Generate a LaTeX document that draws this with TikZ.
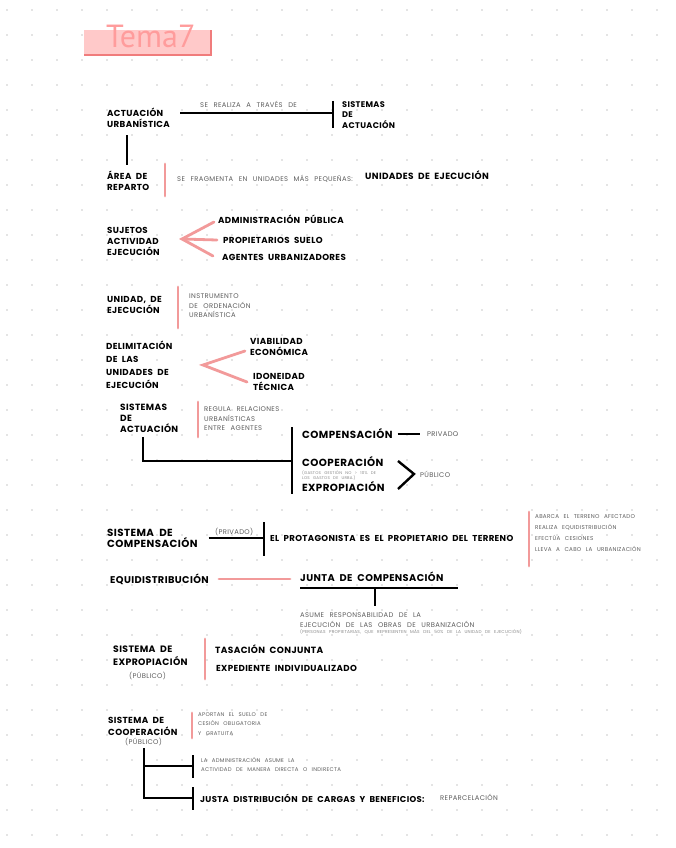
\documentclass[tikz,border=0pt]{standalone}
\usepackage{fontspec}
\setmainfont{Poppins}
\newfontfamily\handfont{Poppins}[WordSpace=2,LetterSpace=4]
\newfontfamily\notefont{Poppins}[WordSpace=2.6,LetterSpace=5]
\newfontfamily\titlefont{PT Sans}
\usetikzlibrary{positioning}
\definecolor{pinkline}{HTML}{F29A9A}
\definecolor{titlefill}{HTML}{FFC9C9}
\definecolor{titleline}{HTML}{F07C7C}
\definecolor{titletext}{HTML}{FF9C9C}
\definecolor{notegray}{HTML}{5E5E5E}
\definecolor{tinygray}{HTML}{8A8A8A}
\definecolor{dotgray}{HTML}{C9C9C9}
\newcommand\hf[2]{\handfont\bfseries\fontsize{#1}{#2}\selectfont}
\newcommand\nf[2]{\notefont\fontsize{#1}{#2}\selectfont}

\begin{document}
\begin{tikzpicture}[x=1pt,y=-1pt,
  lbl/.style={font=\hf{8.7}{11},align=left,anchor=west,inner sep=0pt},
  note/.style={font=\nf{6.8}{9.5},text=notegray,align=left,anchor=west,inner sep=0pt},
  tiny/.style={note,font=\nf{4}{5},text=tinygray},
  blk/.style={line width=2.4pt},
  pk/.style={line width=2.8pt,pinkline,line cap=round}]
\fill[white] (0,0) rectangle (676,848);
\useasboundingbox (0,0) rectangle (676,848);
\foreach \i in {0,...,26} \foreach \j in {0,...,33} \fill[dotgray] (7+25*\i,10+25*\j) circle (0.9pt);

\fill[titlefill] (84,30) rectangle (211,55);
\draw[titleline,line width=1.6pt] (84,55) -- (211,55) -- (211,30);
\node[font=\titlefont\fontsize{32}{32}\selectfont,text=titletext,anchor=base west,inner sep=0pt] (tema) at (106,48) {Tema7};

\node[lbl] (au) at (107,118) {ACTUACIÓN\\URBANÍSTICA};
\node[lbl,font=\hf{8.2}{10.5}] (sa1) at (342,115) {SISTEMAS\\DE\\ACTUACIÓN};
\coordinate (b1) at (333,113);
\draw[blk] ([xshift=10pt,yshift=5pt]au.east) -- (b1);
\draw[blk] (333,101) -- (333,128);
\node[note] (via) at (200,104) {SE REALIZA A TRAVÉS DE};

\node[lbl] (ar) at (107,181) {ÁREA DE\\REPARTO};
\draw[blk] (127,135) -- (127,165);
\draw[pk] (165,164) -- (165,196);
\node[note] (frag) at (177,179) {SE FRAGMENTA EN UNIDADES MÁS PEQUEÑAS:};
\node[lbl,font=\hf{9}{11}] (ue) at (365,175) {UNIDADES DE EJECUCIÓN};

\node[lbl] (suj) at (107,241) {SUJETOS\\ACTIVIDAD\\EJECUCIÓN};
\node[lbl] (adm) at (218,219) {ADMINISTRACIÓN PÚBLICA};
\node[lbl] (prop) at (223,240) {PROPIETARIOS SUELO};
\node[lbl] (age) at (222,257) {AGENTES URBANIZADORES};
\coordinate (s0) at (182,239);
\draw[pk] ([xshift=-4pt,yshift=-3pt]adm.west) -- (s0) -- ([xshift=-9pt,yshift=1pt]age.west);
\draw[pk] (s0) -- ([xshift=-6pt]prop.west);

\node[lbl] (und) at (107,305) {UNIDAD, DE\\EJECUCIÓN};
\draw[pk] (178,287) -- (178,328);
\node[note] (instr) at (189,306) {INSTRUMENTO\\DE ORDENACIÓN\\URBANÍSTICA};

\node[lbl,font=\hf{8.7}{13}] (del) at (106,365) {DELIMITACIÓN\\DE LAS\\UNIDADES DE\\EJECUCIÓN};
\node[lbl] (eco) at (250,347) {VIABILIDAD\\ECONÓMICA};
\node[lbl] (tec) at (253,382) {IDONEIDAD\\TÉCNICA};
\coordinate (d0) at (203,365);
\draw[pk] ([xshift=-5pt,yshift=-4pt]eco.west) -- (d0) -- ([xshift=-6pt]tec.west);

\node[lbl,font=\hf{9}{11}] (sa2) at (120,418) {SISTEMAS\\DE\\ACTUACIÓN};
\draw[pk] (198,402) -- (198,437);
\node[note] (reg) at (204,419) {REGULA RELACIONES\\URBANÍSTICAS\\ENTRE AGENTES};
\coordinate (t0) at (292,461);
\draw[blk] (143,437) |- (t0);
\draw[blk] (292,427) -- (292,494);
\node[lbl,font=\hf{10.3}{13}] (comp) at (302,434) {COMPENSACIÓN};
\node[note] (priv) at (427,434) {PRIVADO};
\draw[blk] ([xshift=5pt]comp.east) -- ([xshift=-7pt]priv.west);
\node[lbl,font=\hf{10.3}{13}] (coop) at (302,462) {COOPERACIÓN};
\node[tiny] (gast) at (302,475) {(GASTOS GESTIÓN NO > 10\% DE\\LOS GASTOS DE URBA.)};
\node[lbl,font=\hf{10.3}{13}] (expr) at (302,487) {EXPROPIACIÓN};
\node[note] (pub) at (420,474) {PÚBLICO};
\draw[blk] (398,461) -- ([xshift=-6pt]pub.west) -- (398,489);

\node[lbl,font=\hf{10.3}{11}] (sc) at (107,538) {SISTEMA DE\\COMPENSACIÓN};
\node[note] (priv2) at (215,532) {(PRIVADO)};
\coordinate (b2) at (264,538);
\draw[blk] ([xshift=11pt]sc.east |- b2) -- (b2);
\draw[blk] (264,522) -- (264,556);
\node[lbl,font=\hf{8.6}{11}] (prot) at (270,538) {EL PROTAGONISTA ES EL PROPIETARIO DEL TERRENO};
\draw[pk] (529,512) -- (529,566);
\node[note,font=\nf{5.6}{11}] (list) at (535,533) {ABARCA EL TERRENO AFECTADO\\REALIZA EQUIDISTRIBUCIÓN\\EFECTÚA CESIONES\\LLEVA A CABO LA URBANIZACIÓN};

\node[lbl,font=\hf{9.8}{12}] (equi) at (110,579) {EQUIDISTRIBUCIÓN};
\node[lbl,font=\hf{9.8}{12}] (junta) at (300,577) {JUNTA DE COMPENSACIÓN};
\draw[pk] ([xshift=10pt]equi.east) -- ([xshift=-10pt]junta.west |- equi.east);
\coordinate (j0) at (375,588);
\draw[blk] (300,588) -- (458,588);
\draw[blk] (j0) -- (375,606);
\node[note] (asume) at (300,620) {ASUME RESPONSABILIDAD DE LA\\EJECUCIÓN DE LAS OBRAS DE URBANIZACIÓN};
\node[tiny,font=\nf{4.3}{5}] (pers) at (300,632) {(PERSONAS PROPIETARIAS, QUE REPRESENTEN MÁS DEL 50\% DE LA UNIDAD DE EJECUCIÓN)};

\node[lbl,font=\hf{9.3}{13}] (se) at (113,656) {SISTEMA DE\\EXPROPIACIÓN};
\node[note] (pub2) at (129,676) {(PÚBLICO)};
\draw[pk] (205,639) -- (205,679);
\node[lbl,font=\hf{9}{11}] (tas) at (215,649) {TASACIÓN CONJUNTA};
\node[lbl,font=\hf{8.7}{11}] (exp) at (216,668) {EXPEDIENTE INDIVIDUALIZADO};

\node[lbl,font=\hf{8.8}{12}] (scoop) at (108,726) {SISTEMA DE\\COOPERACIÓN};
\node[note] (pub3) at (125,742) {(PÚBLICO)};
\draw[pk] (192,713) -- (192,738);
\node[note,font=\nf{5.4}{9.5}] (apor) at (198,724) {APORTAN EL SUELO DE\\CESIÓN OBLIGATORIA\\Y GRATUITA};
\coordinate (k1) at (193,766);
\coordinate (k2) at (193,798);
\draw[blk] (144,748) |- (k2);
\draw[blk] (144,766) -- (k1);
\draw[blk] (193,755) -- (193,778);
\draw[blk] (193,787) -- (193,810);
\node[note,font=\nf{5.4}{9}] (adm2) at (201,765) {LA ADMINISTRACIÓN ASUME LA\\ACTIVIDAD DE MANERA DIRECTA O INDIRECTA};
\node[lbl,font=\hf{8.5}{11}] (justa) at (200,798) {JUSTA DISTRIBUCIÓN DE CARGAS Y BENEFICIOS:};
\node[note] (repa) at (440,797) {REPARCELACIÓN};
\end{tikzpicture}
\end{document}
